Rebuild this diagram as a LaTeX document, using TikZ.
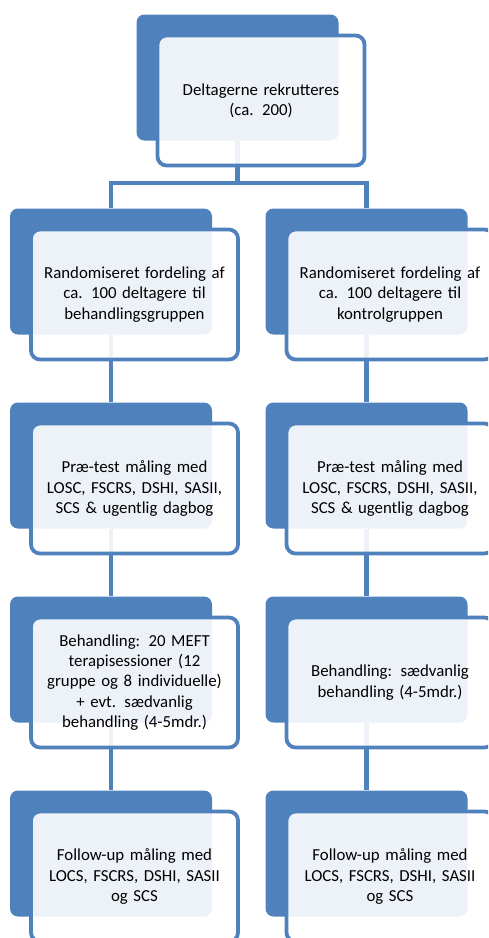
\documentclass[tikz,border=0pt]{standalone}
\usepackage{fontspec}
\setmainfont{Carlito}
\usetikzlibrary{calc}
\definecolor{boxblue}{HTML}{4F81BD}
\tikzset{
  back box/.style={
    fill=boxblue,
    rounded corners=8pt,
    minimum width=202pt,
    minimum height=126pt,
    inner sep=0pt
  },
  front box/.style={
    draw=boxblue,
    line width=3.8pt,
    fill=white,
    fill opacity=0.9,
    text opacity=1,
    rounded corners=9pt,
    minimum width=207pt,
    minimum height=130pt,
    inner sep=0pt,
    text width=205pt,
    align=center,
    font=\fontsize{16.8}{20.3}\selectfont
  },
  link/.style={draw=boxblue, line width=4.5pt}
}

\begin{document}
\begin{tikzpicture}[x=1pt,y=-1pt]
\useasboundingbox (0,0) rectangle (488,938);
\clip (0,0) rectangle (488,938);
\def\dy{194}
\def\dx{23.5}
% back boxes
\node[back box] (top) at (237.5,77.5) {};
\foreach \i in {2,...,5}{
  \node[back box] (l\i) at (111,  {77.5+(\i-1)*\dy}) {};
  \node[back box] (r\i) at (366.5,{77.5+(\i-1)*\dy}) {};
}
% connectors
\coordinate (fork) at (237.5,183);
\draw[link] (top.south) -- (fork);
\draw[link] (l2.north) |- (fork) -| (r2.north);
\foreach \i/\j in {2/3,3/4,4/5}{
  \draw[link] (l\i.south) -- (l\j.north);
  \draw[link] (r\i.south) -- (r\j.north);
}
% front boxes
\node[front box] (topf) at ($(top)+(\dx,23)$) {Deltagerne rekrutteres\\(ca. 200)};
\node[front box] (l2f) at ($(l2)+(\dx,23)$) {Randomiseret fordeling af\\ca. 100 deltagere til\\behandlingsgruppen};
\node[front box] (r2f) at ($(r2)+(\dx,23)$) {Randomiseret fordeling af\\ca. 100 deltagere til\\kontrolgruppen};
\node[front box] (l3f) at ($(l3)+(\dx,23)$) {Præ-test måling med\\LOSC, FSCRS, DSHI, SASII,\\SCS \& ugentlig dagbog};
\node[front box] (r3f) at ($(r3)+(\dx,23)$) {Præ-test måling med\\LOSC, FSCRS, DSHI, SASII,\\SCS \& ugentlig dagbog};
\node[front box] (l4f) at ($(l4)+(\dx,23)$) {Behandling: 20 MEFT\\terapisessioner (12\\gruppe og 8 individuelle)\\+ evt. sædvanlig\\behandling (4-5mdr.)};
\node[front box] (r4f) at ($(r4)+(\dx,23)$) {Behandling: sædvanlig\\behandling (4-5mdr.)};
\node[front box] (l5f) at ($(l5)+(\dx,23)$) {Follow-up måling med\\LOCS, FSCRS, DSHI, SASII\\og SCS};
\node[front box] (r5f) at ($(r5)+(\dx,23)$) {Follow-up måling med\\LOCS, FSCRS, DSHI, SASII\\og SCS};
\end{tikzpicture}
\end{document}
